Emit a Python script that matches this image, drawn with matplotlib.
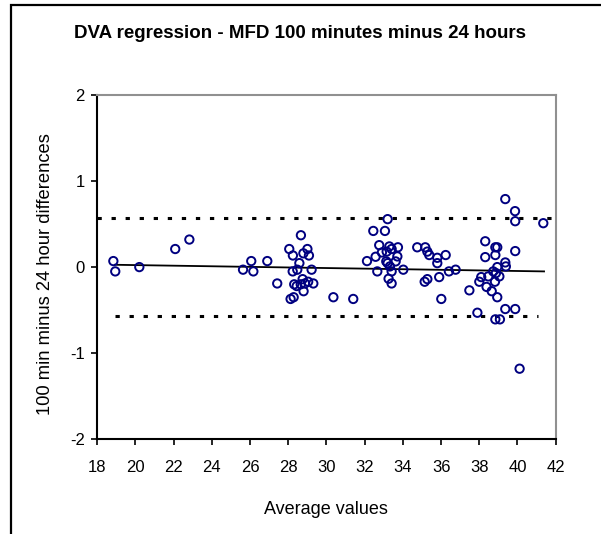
import matplotlib
matplotlib.use("Agg")
import matplotlib.pyplot as plt
import matplotlib.patches as patches

plt.rcParams['font.family'] = ['Liberation Sans', 'DejaVu Sans']

# Bland-Altman style data: average values vs differences (100 min - 24 h)
avg_values = [18.84, 18.94, 20.20, 22.08, 22.82, 25.63, 26.06, 26.17, 26.90, 27.42,
              28.05, 28.24, 28.12, 28.28, 28.23, 28.47, 28.58, 28.66, 28.79, 29.00,
              29.08, 29.22, 28.31, 28.44, 28.75, 28.80, 28.87, 29.04, 29.31, 28.65,
              30.36, 31.40, 32.12, 32.45, 32.57, 32.66, 32.76, 32.90, 33.06, 33.20,
              33.15, 33.13, 33.20, 33.29, 33.41, 33.32, 33.41, 33.25, 33.41, 33.62,
              33.71, 33.74, 34.02, 34.75, 35.17, 35.28, 35.38, 35.14, 35.28, 35.80,
              35.80, 35.90, 36.01, 36.24, 36.41, 36.76, 37.48, 37.90, 38.00, 38.10,
              38.31, 38.31, 38.38, 38.47, 38.65, 38.73, 38.84, 38.94, 38.84, 38.82,
              38.94, 38.87, 38.94, 39.05, 38.84, 39.08, 39.36, 39.36, 39.39, 39.36,
              39.87, 39.88, 39.88, 39.88, 40.11, 41.35]
differences = [0.07, -0.05, 0.00, 0.21, 0.32, -0.03, 0.07, -0.05, 0.07, -0.19,
               0.21, 0.135, -0.37, -0.35, -0.05, -0.03, 0.046, 0.37, 0.16, 0.21,
               0.135, -0.03, -0.20, -0.22, -0.14, -0.28, -0.19, -0.17, -0.19, -0.20,
               -0.35, -0.37, 0.07, 0.42, 0.12, -0.05, 0.255, 0.17, 0.42, 0.557,
               0.18, 0.066, 0.046, 0.24, 0.21, 0.008, -0.05, -0.135, -0.19, 0.066,
               0.124, 0.23, -0.03, 0.23, 0.23, 0.18, 0.14, -0.17, -0.14, 0.108,
               0.046, -0.116, -0.37, 0.14, -0.05, -0.03, -0.27, -0.53, -0.17, -0.116,
               0.30, 0.116, -0.23, -0.108, -0.28, -0.05, 0.23, 0.23, 0.14, -0.17,
               -0.35, -0.07, 0.00, -0.108, -0.607, -0.607, 0.79, 0.054, 0.008, -0.487,
               0.65, 0.533, 0.186, -0.487, -1.18, 0.51]

# regression line end points and limits of agreement
reg_x = [18.92, 41.39]
reg_y = [0.027, -0.050]
upper_x = [18.0, 42.0]
upper_y = [0.572, 0.572]
lower_x = [18.92, 41.09]
lower_y = [-0.568, -0.568]

fig = plt.figure(figsize=(6.01, 5.34), dpi=100)
ax = fig.add_axes([97.3 / 601, 1 - 439.3 / 534, 458.4 / 601, 344.4 / 534])

ax.plot(upper_x, upper_y, color='black', lw=2.2, linestyle=(0, (1.4, 3.2)), clip_on=False)
ax.plot(lower_x, lower_y, color='black', lw=2.2, linestyle=(0, (1.4, 3.2)))
ax.plot(reg_x, reg_y, color='black', lw=1.3)
ax.scatter(avg_values, differences, s=36, facecolors='none', edgecolors='#000080',
           linewidths=1.4, zorder=3)

ax.set_xlim(18, 42)
ax.set_ylim(-2, 2)
ax.set_xticks(range(18, 43, 2))
ax.set_yticks([-2, -1, 0, 1, 2])
ax.set_yticklabels(['-2', '-1', '0', '1', '2'])
ax.tick_params(axis='both', direction='out', length=4, width=1.2, labelsize=12, colors='black')
ax.tick_params(axis='x', pad=11)
ax.tick_params(axis='y', pad=5)
for side in ['left', 'bottom']:
    ax.spines[side].set_color('black')
    ax.spines[side].set_linewidth(1.5)
for side in ['top', 'right']:
    ax.spines[side].set_color('#909090')
    ax.spines[side].set_linewidth(1.5)

fig.text(0.5, 1 - 33 / 534, 'DVA regression - MFD 100 minutes minus 24 hours',
         ha='center', va='center', fontsize=13.5, fontweight='bold')
fig.text(326 / 601, 1 - 509 / 534, 'Average values', ha='center', va='center', fontsize=13)
fig.text(46 / 601, 1 - 274 / 534, '100 min minus 24 hour differences', ha='center',
         va='center', rotation=90, fontsize=13.2)

border = patches.Rectangle((11 / 601, -0.1), 1.2, 1.1 - 5 / 534, transform=fig.transFigure,
                           fill=False, edgecolor='black', linewidth=1.6, clip_on=False)
fig.patches.append(border)

fig.savefig('out.png', dpi=100)
